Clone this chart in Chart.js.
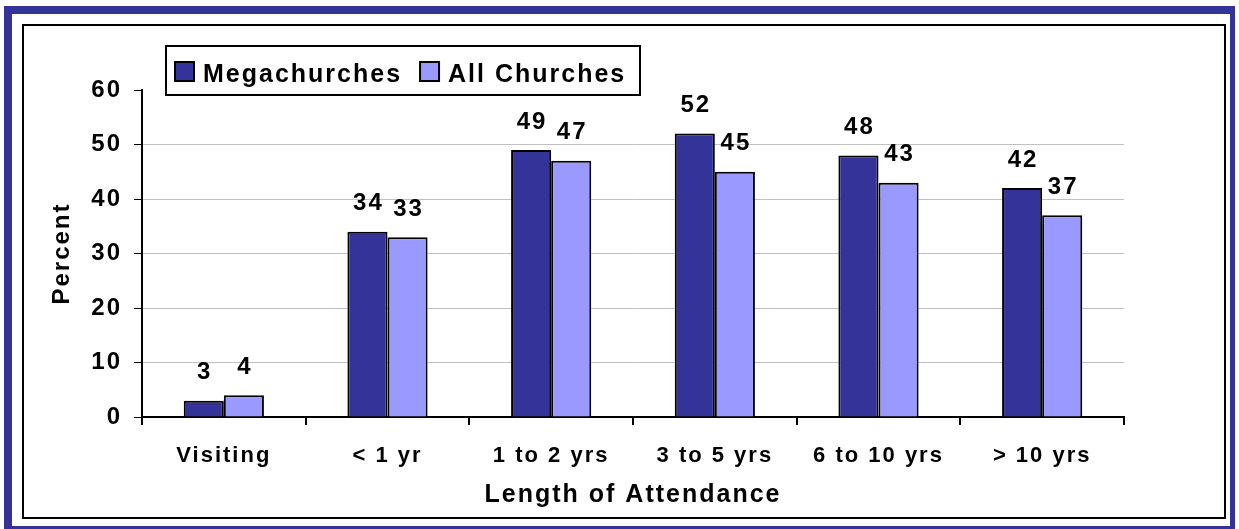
<!DOCTYPE html>
<html>
<head>
<meta charset="utf-8">
<script src="https://cdn.jsdelivr.net/npm/chart.js@4.4.1/dist/chart.umd.min.js"></script>
<style>
  html, body { margin: 0; padding: 0; background: #fff; }
  canvas { display: block; }
</style>
</head>
<body>
<canvas id="attendChart" width="1239" height="529"></canvas>
<script>
var categories = ['Visiting', '< 1 yr', '1 to 2 yrs', '3 to 5 yrs', '6 to 10 yrs', '> 10 yrs'];
var megachurches = [3, 34, 49, 52, 48, 42];
var allChurches = [4, 33, 47, 45, 43, 37];
var yTicks = [0, 10, 20, 30, 40, 50, 60];

var FONT = '"Liberation Sans", Arial, sans-serif';
Chart.defaults.font.family = FONT;
Chart.defaults.color = '#000';

// outer frame, framed legend and value labels over the bars
var decor = {
    id: 'decor',
    beforeLayout: function (chart) {
        chart.ctx.letterSpacing = '2px';
    },
    beforeDraw: function (chart) {
        var c = chart.ctx;
        c.save();
        c.fillStyle = '#333399';
        c.fillRect(4, 6, 1231, 523);
        c.fillStyle = '#fff';
        c.fillRect(12, 14, 1218, 512);
        c.strokeStyle = '#000';
        c.lineWidth = 2;
        c.strokeRect(23, 25, 1202, 493);
        c.restore();
        c.letterSpacing = '2px';
    },
    afterDatasetsDraw: function (chart) {
        var c = chart.ctx;
        c.save();
        c.font = 'bold 24px ' + FONT;
        c.fillStyle = '#000';
        c.textAlign = 'center';
        c.textBaseline = 'middle';
        chart.data.datasets.forEach(function (ds, di) {
            chart.getDatasetMeta(di).data.forEach(function (bar, i) {
                c.fillText(String(ds.data[i]), bar.x + 1, bar.y - 28);
            });
        });
        c.restore();
    },
    afterDraw: function (chart) {
        var c = chart.ctx;
        c.save();
        c.fillStyle = '#fff';
        c.fillRect(166, 46, 474, 49);
        c.strokeStyle = '#000';
        c.lineWidth = 2;
        c.strokeRect(166, 46, 474, 49);
        c.font = 'bold 25px ' + FONT;
        c.textAlign = 'left';
        c.textBaseline = 'alphabetic';
        var x = 175;
        chart.data.datasets.forEach(function (ds) {
            c.fillStyle = ds.backgroundColor;
            c.fillRect(x, 62, 19, 19);
            c.strokeRect(x, 62, 19, 19);
            x += 28;
            c.fillStyle = '#000';
            c.fillText(ds.label, x, 82);
            x += c.measureText(ds.label).width + 18;
        });
        c.restore();
    }
};

var ctx = document.getElementById('attendChart').getContext('2d');
var attendChart = new Chart(ctx, {
    type: 'bar',
    data: {
        labels: categories,
        datasets: [
            {
                label: 'Megachurches',
                data: megachurches,
                backgroundColor: '#333399',
                borderColor: '#000',
                borderWidth: 2
            },
            {
                label: 'All Churches',
                data: allChurches,
                backgroundColor: '#9999FF',
                borderColor: '#000',
                borderWidth: 2
            }
        ]
    },
    options: {
        responsive: false,
        animation: false,
        datasets: {
            bar: { categoryPercentage: 0.49, barPercentage: 1 }
        },
        layout: {
            padding: { left: 22, right: 115, top: 90, bottom: 11 }
        },
        plugins: {
            legend: { display: false },
            tooltip: { enabled: false }
        },
        scales: {
            x: {
                offset: true,
                border: { display: true, color: '#000', width: 2 },
                grid: {
                    display: true,
                    drawOnChartArea: false,
                    offset: true,
                    color: '#000',
                    lineWidth: 2,
                    tickLength: 8
                },
                ticks: {
                    color: '#000',
                    font: { size: 22, weight: 'bold' },
                    padding: 18,
                    maxRotation: 0,
                    autoSkip: false
                },
                title: {
                    display: true,
                    text: 'Length of Attendance',
                    color: '#000',
                    font: { size: 25, weight: 'bold' },
                    padding: { top: 0, bottom: 8 }
                },
                afterFit: function (scale) { scale.height = 101; }
            },
            y: {
                min: 0,
                max: 60,
                afterBuildTicks: function (scale) {
                    scale.ticks = yTicks.map(function (v) { return { value: v }; });
                },
                border: { display: true, color: '#000', width: 2 },
                grid: {
                    color: function (c) {
                        var v = c.tick ? c.tick.value : 0;
                        return (v === 0 || v === 60) ? 'rgba(0,0,0,0)' : '#C0C0C0';
                    },
                    tickColor: '#000',
                    lineWidth: 1,
                    tickLength: 8
                },
                ticks: {
                    color: '#000',
                    font: { size: 24, weight: 'bold' },
                    padding: 12
                },
                title: {
                    display: true,
                    text: 'Percent',
                    color: '#000',
                    font: { size: 24, weight: 'bold' },
                    padding: { top: 26, bottom: 0 }
                },
                afterFit: function (scale) { scale.width = 120; }
            }
        }
    },
    plugins: [decor]
});
</script>
</body>
</html>
